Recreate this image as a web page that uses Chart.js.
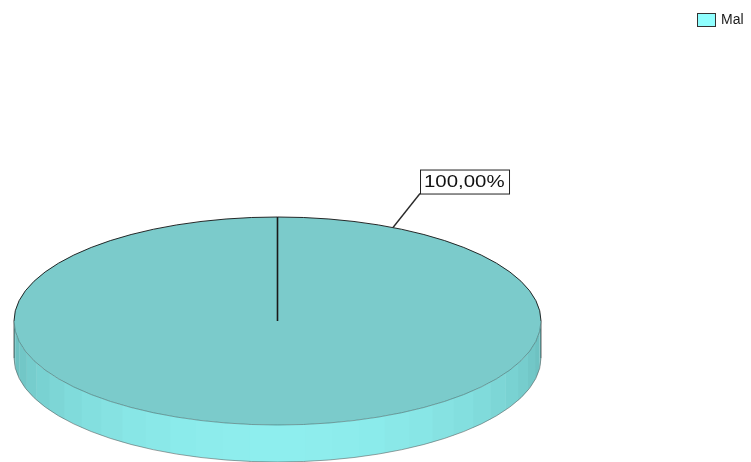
<!DOCTYPE html>
<html>
<head>
<meta charset="utf-8">
<style>
  html, body { margin: 0; padding: 0; background: #ffffff; }
  #wrap { width: 751px; height: 462px; position: relative; }
</style>
<script src="https://cdn.jsdelivr.net/npm/chart.js@4.4.0/dist/chart.umd.min.js"></script>
</head>
<body>
<div id="wrap"><canvas id="chart" width="751" height="462"></canvas></div>
<script>
// Series data
const categories = ['Mal'];
const counts = [100];
const seriesColors = ['#90FFFF'];     // legend / base colour
const topFaceColors = ['#7BCBCB'];    // lit top face of the disc

// 3D styling
const DEPTH = 37;                       // height of the disc wall
const SIDE_BRIGHT = [142, 238, 238];    // wall colour facing the viewer
const SIDE_DARK = [104, 186, 186];      // wall colour at the far left/right
const FACETS = 30;
const LABEL_ANGLE = -64 * Math.PI / 180; // where the leader line meets the rim
const LABEL_OFFSET = { dx: 27, dy: -34 };

function fmtPercent(v, total) {
  return (v / total * 100).toFixed(2).replace('.', ',') + '%';
}

function geom(chart) {
  const arc = chart.getDatasetMeta(0).data[0];
  const area = chart.chartArea;
  const ry = arc.outerRadius;
  const rx = area.width / 2;
  return { arc, cx: arc.x, cy: arc.y, rx, ry, stretch: rx / ry };
}

const pie3d = {
  id: 'pie3d',
  beforeDatasetsDraw(chart) {
    const ctx = chart.ctx;
    const g = geom(chart);
    // disc wall, drawn as shaded facets along the front half
    for (let i = 0; i < FACETS; i++) {
      const t0 = i * Math.PI / FACETS;
      const t1 = (i + 1) * Math.PI / FACETS;
      const f = Math.sin((t0 + t1) / 2);
      const c = SIDE_DARK.map((d, k) => Math.round(d + (SIDE_BRIGHT[k] - d) * f));
      const col = `rgb(${c[0]},${c[1]},${c[2]})`;
      ctx.beginPath();
      ctx.ellipse(g.cx, g.cy, g.rx, g.ry, 0, t0, t1 + 0.004);
      ctx.ellipse(g.cx, g.cy + DEPTH, g.rx, g.ry, 0, t1 + 0.004, t0, true);
      ctx.closePath();
      ctx.fillStyle = col;
      ctx.fill();
    }
    // wall outline
    ctx.save();
    ctx.lineWidth = 1;
    ctx.strokeStyle = 'rgba(50,50,50,0.75)';
    ctx.beginPath();
    ctx.moveTo(g.cx - g.rx, g.cy);
    ctx.lineTo(g.cx - g.rx, g.cy + DEPTH);
    ctx.moveTo(g.cx + g.rx, g.cy);
    ctx.lineTo(g.cx + g.rx, g.cy + DEPTH);
    ctx.stroke();
    ctx.strokeStyle = 'rgba(90,90,90,0.55)';
    ctx.beginPath();
    ctx.ellipse(g.cx, g.cy + DEPTH, g.rx, g.ry, 0, 0, Math.PI);
    ctx.stroke();
    ctx.restore();
    // tilt: the slices are drawn on a flattened plane
    ctx.save();
    ctx.translate(g.cx, g.cy);
    ctx.scale(g.stretch, 1);
    ctx.translate(-g.cx, -g.cy);
  },
  afterDatasetsDraw(chart) {
    const ctx = chart.ctx;
    ctx.restore();
    const g = geom(chart);
    // rim of the top face
    ctx.save();
    ctx.lineWidth = 1;
    ctx.strokeStyle = 'rgba(20,20,20,0.9)';
    ctx.beginPath();
    ctx.ellipse(g.cx, g.cy, g.rx, g.ry, 0, Math.PI, 2 * Math.PI);
    ctx.stroke();
    ctx.strokeStyle = 'rgba(40,70,70,0.45)';
    ctx.beginPath();
    ctx.ellipse(g.cx, g.cy, g.rx, g.ry, 0, 0, Math.PI);
    ctx.stroke();
    // slice boundary
    const a = g.arc.startAngle;
    ctx.strokeStyle = '#1a1a1a';
    ctx.lineWidth = 1.6;
    ctx.beginPath();
    ctx.moveTo(g.cx, g.cy);
    ctx.lineTo(g.cx + g.rx * Math.cos(a), g.cy + g.ry * Math.sin(a));
    ctx.stroke();

    // percentage label with leader line
    const total = counts.reduce((s, v) => s + v, 0);
    const text = fmtPercent(counts[0], total);
    const ax = g.cx + g.rx * Math.cos(LABEL_ANGLE);
    const ay = g.cy + g.ry * Math.sin(LABEL_ANGLE);
    const bx = ax + LABEL_OFFSET.dx;
    const by = ay + LABEL_OFFSET.dy;
    ctx.font = '17px "Liberation Sans", Arial, sans-serif';
    const sx = 1.2;
    const tw = ctx.measureText(text).width * sx;
    const bw = Math.round(tw + 8);
    const bh = 24;
    ctx.strokeStyle = '#2a2a2a';
    ctx.lineWidth = 1.4;
    ctx.beginPath();
    ctx.moveTo(ax, ay);
    ctx.lineTo(bx, by);
    ctx.stroke();
    ctx.fillStyle = '#ffffff';
    ctx.fillRect(bx + 0.5, by - bh + 0.5, bw, bh);
    ctx.lineWidth = 1;
    ctx.strokeStyle = '#222222';
    ctx.strokeRect(bx + 0.5, by - bh + 0.5, bw, bh);
    ctx.fillStyle = '#111111';
    ctx.textBaseline = 'middle';
    ctx.textAlign = 'left';
    ctx.translate(bx + 4, by - bh / 2 + 1);
    ctx.scale(sx, 1);
    ctx.fillText(text, 0, 0);
    ctx.restore();
  },
  afterDraw(chart) {
    // legend in the top-right corner
    const ctx = chart.ctx;
    ctx.save();
    let y = 13;
    categories.forEach((name, i) => {
      ctx.fillStyle = seriesColors[i];
      ctx.fillRect(697.5, y + 0.5, 18, 13);
      ctx.strokeStyle = '#333333';
      ctx.lineWidth = 1;
      ctx.strokeRect(697.5, y + 0.5, 18, 13);
      ctx.fillStyle = '#1a1a1a';
      ctx.font = '14px "Liberation Sans", Arial, sans-serif';
      ctx.textBaseline = 'middle';
      ctx.fillText(name, 721, y + 7.5);
      y += 18;
    });
    ctx.restore();
  }
};

new Chart(document.getElementById('chart'), {
  type: 'pie',
  data: {
    labels: categories,
    datasets: [{
      data: counts,
      backgroundColor: topFaceColors,
      borderWidth: 0,
      clip: false
    }]
  },
  options: {
    responsive: false,
    animation: false,
    events: [],
    layout: { padding: { left: 14, right: 210, top: 217, bottom: 37 } },
    plugins: {
      legend: { display: false },
      tooltip: { enabled: false }
    }
  },
  plugins: [pie3d]
});
</script>
</body>
</html>
